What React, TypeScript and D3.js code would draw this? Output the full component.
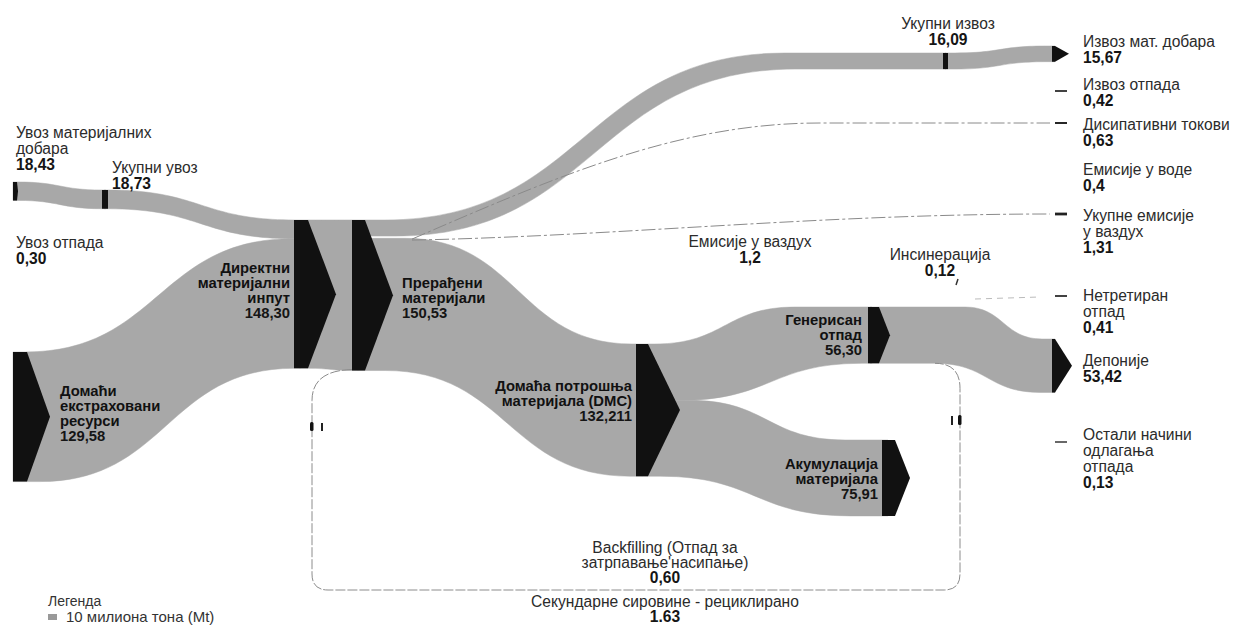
import React from "react";
import * as d3 from "d3";

// вредности у милионима тона (Mt)
const nodeIds = ["importGoods", "importTotal", "domestic", "dmi", "processed", "exportTotal", "exportGoods", "dmc", "waste", "accum", "landfill"];
const nodeValues = [18.43, 18.73, 129.58, 148.3, 150.53, 16.09, 15.67, 132.211, 56.3, 75.91, 53.42];
const nodeLabels = [
  ["Увоз материјалних", "добара"],
  ["Укупни увоз"],
  ["Домаћи", "екстраховани", "ресурси"],
  ["Директни", "материјални", "инпут"],
  ["Прерађени", "материјали"],
  ["Укупни извоз"],
  ["Извоз мат. добара"],
  ["Домаћа потрошња", "материјала (DMC)"],
  ["Генерисан", "отпад"],
  ["Акумулација", "материјала"],
  ["Депоније"],
];
const nodeValueText = ["18,43", "18,73", "129,58", "148,30", "150,53", "16,09", "15,67", "132,211", "56,30", "75,91", "53,42"];

const flowSource = ["importGoods", "importTotal", "domestic", "dmi", "processed", "exportTotal", "processed", "dmc", "dmc", "waste"];
const flowTarget = ["importTotal", "dmi", "dmi", "processed", "exportTotal", "exportGoods", "dmc", "waste", "accum", "landfill"];
const flowValues = [18.43, 18.73, 129.58, 148.3, 16.09, 15.67, 132.211, 56.3, 75.91, 53.42];

const minorNames = [["Извоз отпада"], ["Дисипативни токови"], ["Емисије у воде"], ["Укупне емисије", "у ваздух"], ["Нетретиран", "отпад"], ["Остали начини", "одлагања", "отпада"]];
const minorValues = [0.42, 0.63, 0.4, 1.31, 0.41, 0.13];
const minorValueText = ["0,42", "0,63", "0,4", "1,31", "0,41", "0,13"];

const otherLabels = [["Увоз отпада"], ["Емисије у ваздух"], ["Инсинерација"], ["Backfilling (Отпад за", "затрпавање'насипање)"], ["Секундарне сировине - рециклирано"]];
const otherValueText = ["0,30", "1,2", "0,12", "0,60", "1.63"];

// ---- распоред (layout) ----
const nodeLayout = {
  importGoods: { x: 13, y: 182, bar: 4, tip: 5 },
  importTotal: { x: 102, y: 190, bar: 6, tip: 6 },
  domestic: { x: 13, y: 352, bar: 14, tip: 37 },
  dmi: { x: 294, y: 220, bar: 14, tip: 42 },
  processed: { x: 352, y: 220, bar: 13, tip: 41 },
  exportTotal: { x: 943, y: 53, bar: 5, tip: 5 },
  exportGoods: { x: 1052, y: 46, bar: 3, tip: 17 },
  dmc: { x: 636, y: 344, bar: 12, tip: 44 },
  waste: { x: 868, y: 307, bar: 11, tip: 22 },
  accum: { x: 882, y: 440, bar: 13, tip: 28 },
  landfill: { x: 1052, y: 339, bar: 3, tip: 20 },
};

// x ranges: start, end, top curve [a,b], bottom curve [a,b]
const flowLayout = [
  { xs: 13, xe: 106, top: [18, 102], bot: [18, 102] },
  { xs: 104, xe: 300, top: [108, 294], bot: [108, 294] },
  { xs: 13, xe: 300, top: [25, 292], bot: [40, 294] },
  { xs: 300, xe: 358, top: [308, 352], bot: [308, 352] },
  { xs: 358, xe: 946, top: [385, 785], bot: [395, 795] },
  { xs: 945, xe: 1055, top: [955, 1045], bot: [955, 1045] },
  { xs: 358, xe: 642, top: [405, 632], bot: [385, 630] },
  { xs: 642, xe: 872, top: [655, 795], bot: [680, 862] },
  { xs: 642, xe: 888, top: [690, 845], bot: [660, 850] },
  { xs: 870, xe: 1055, top: [965, 1042], bot: [935, 1040] },
];

const nodeLabelPos = {
  importGoods: { x: 16, y: 138, anchor: "start", kind: "plain" },
  importTotal: { x: 112, y: 173, anchor: "start", kind: "plain" },
  domestic: { x: 60, y: 396, anchor: "start", kind: "band" },
  dmi: { x: 290, y: 273, anchor: "end", kind: "band" },
  processed: { x: 402, y: 288, anchor: "start", kind: "band" },
  exportTotal: { x: 948, y: 29, anchor: "middle", kind: "plain" },
  exportGoods: { x: 1083, y: 47, anchor: "start", kind: "plain" },
  dmc: { x: 632, y: 391, anchor: "end", kind: "band" },
  waste: { x: 862, y: 325, anchor: "end", kind: "band" },
  accum: { x: 878, y: 469, anchor: "end", kind: "band" },
  landfill: { x: 1083, y: 366, anchor: "start", kind: "plain" },
};
const minorLabelY = [90, 130, 175, 221, 301, 440];
const minorDashY = [91, 123, null, 214, 296, 442];
const otherLabelPos = [
  { x: 16, y: 248, anchor: "start" },
  { x: 750, y: 247, anchor: "middle" },
  { x: 940, y: 260, anchor: "middle" },
  { x: 665, y: 553, anchor: "middle", lh: 15 },
  { x: 665, y: 607, anchor: "middle", lh: 15 },
];

const W = 1242;
const H = 626;
const GRAY = "#a8a8a8";
const FONT = "'Liberation Sans', Arial, sans-serif";

const mt = d3.scaleLinear().domain([0, 10]).range([0, 10]);

function ribbon(l, ys, t0, ye, t1) {
  const p = d3.path();
  const [a, b] = l.top;
  const [c, d] = l.bot;
  const k = 0.5;
  p.moveTo(l.xs, ys);
  p.lineTo(a, ys);
  p.bezierCurveTo(a + (b - a) * k, ys, b - (b - a) * k, ye, b, ye);
  p.lineTo(l.xe, ye);
  p.lineTo(l.xe, ye + t1);
  p.lineTo(d, ye + t1);
  p.bezierCurveTo(d - (d - c) * k, ye + t1, c + (d - c) * k, ys + t0, c, ys + t0);
  p.lineTo(l.xs, ys + t0);
  p.closePath();
  return p.toString();
}

function nodeShape(n, h) {
  const pts = [
    [n.x, n.y],
    [n.x + n.bar, n.y],
    [n.x + n.tip, n.y + h / 2],
    [n.x + n.bar, n.y + h],
    [n.x, n.y + h],
  ];
  return d3.line()(pts) + "Z";
}

function Label({ x, y, anchor, lines, value, kind, lh }) {
  const band = kind === "band";
  const step = lh || (band ? 15 : 16);
  return (
    <text
      x={x}
      y={y}
      textAnchor={anchor}
      fontFamily={FONT}
      fontSize={band ? 14.8 : 15.6}
      fontWeight={band ? "bold" : "normal"}
      fill={band ? "#111" : "#2b2b2b"}
    >
      {lines.map((s, i) => (
        <tspan key={i} x={x} y={y + i * step}>{s}</tspan>
      ))}
      <tspan x={x} y={y + lines.length * step} fontWeight="bold" fill="#151515">{value}</tspan>
    </text>
  );
}

export default function App() {
  const valueOf = (id) => nodeValues[nodeIds.indexOf(id)];

  // stack flows at nodes; last flow is aligned to the node's far edge
  const outs = {};
  const ins = {};
  flowSource.forEach((s, i) => (outs[s] = [...(outs[s] || []), i]));
  flowTarget.forEach((t, i) => (ins[t] = [...(ins[t] || []), i]));

  const offset = (list, i, total) => {
    const pos = list.indexOf(i);
    if (pos === list.length - 1 && list.length > 1) return total - flowValues[i];
    return d3.sum(list.slice(0, pos), (j) => flowValues[j]);
  };

  const ribbons = flowValues.map((v, i) => {
    const s = flowSource[i];
    const t = flowTarget[i];
    const sl = nodeLayout[s];
    const tl = nodeLayout[t];
    const t0 = mt(outs[s].length === 1 ? valueOf(s) : v);
    const t1 = mt(ins[t].length === 1 ? valueOf(t) : v);
    const ys = sl.y + mt(offset(outs[s], i, valueOf(s)));
    const ye = tl.y + mt(offset(ins[t], i, valueOf(t)));
    return ribbon(flowLayout[i], ys, t0, ye, t1);
  });

  // тањи токови (емисије, дисипативни токови)
  const fan = nodeLayout.processed;
  const fx = fan.x + 60;
  const fy = fan.y + mt(flowValues[4]) + 3;
  const dissip = d3.path();
  dissip.moveTo(fx, fy);
  dissip.bezierCurveTo(560, 175, 680, minorDashY[1], 820, minorDashY[1]);
  dissip.lineTo(1050, minorDashY[1]);
  const air = d3.path();
  air.moveTo(fx, fy + 1);
  air.bezierCurveTo(620, 236, 820, minorDashY[3], 1050, minorDashY[3]);

  // петља рециклаже / backfilling
  const loopX0 = 312;
  const loopX1 = 960;
  const loopY = 590;
  const wasteBottom = nodeLayout.waste.y + mt(valueOf("waste"));
  const dmiBottom = nodeLayout.processed.y + mt(valueOf("processed"));
  const loop = d3.path();
  loop.moveTo(352, dmiBottom - 1);
  loop.quadraticCurveTo(loopX0, dmiBottom, loopX0, dmiBottom + 30);
  loop.lineTo(loopX0, loopY - 16);
  loop.quadraticCurveTo(loopX0, loopY, loopX0 + 16, loopY);
  loop.lineTo(loopX1 - 16, loopY);
  loop.quadraticCurveTo(loopX1, loopY, loopX1, loopY - 16);
  loop.lineTo(loopX1, wasteBottom + 25);
  loop.quadraticCurveTo(loopX1, wasteBottom, 935, wasteBottom);

  return (
    <div style={{ position: "absolute", left: 0, top: 0 }}>
      <svg width={W} height={H} viewBox={`0 0 ${W} ${H}`} style={{ display: "block", background: "#fff" }}>
        <g>
          {ribbons.map((d, i) => (
            <path key={i} d={d} fill={GRAY} stroke={GRAY} strokeWidth={0.5} />
          ))}
        </g>

        <path d={dissip.toString()} fill="none" stroke="#8a8a8a" strokeWidth={1} strokeDasharray="14 3 3 3" />
        <path d={air.toString()} fill="none" stroke="#8a8a8a" strokeWidth={1} strokeDasharray="14 3 3 3" />
        <line x1={975} y1={299} x2={1040} y2={297} stroke="#bbb" strokeWidth={1} strokeDasharray="6 5" />
        <path d={loop.toString()} fill="none" stroke="#8c8c8c" strokeWidth={1} strokeDasharray="10 2" />

        {/* прекиди на петљи */}
        <rect x={310} y={422} width={3.5} height={9} rx={1.5} fill="#111" />
        <rect x={321} y={423} width={2} height={8} fill="#222" />
        <rect x={951} y={416} width={2} height={9} fill="#222" />
        <rect x={958} y={415} width={3.5} height={10} rx={1.5} fill="#111" />

        {/* чворови */}
        {nodeIds.map((id, i) => (
          <path key={id} d={nodeShape(nodeLayout[id], mt(nodeValues[i]))} fill="#111" />
        ))}

        {/* мали излазни токови */}
        {minorValues.map((v, i) =>
          minorDashY[i] == null ? null : (
            <rect key={i} x={1055} y={minorDashY[i] - (1.2 + mt(v) * 1.2) / 2} width={12} height={1.2 + mt(v) * 1.2} fill="#222" />
          )
        )}
        <path d="M958,279 L956,285" stroke="#333" strokeWidth={1.5} />

        {nodeIds.map((id, i) => (
          <Label key={id} {...nodeLabelPos[id]} lines={nodeLabels[i]} value={nodeValueText[i]} />
        ))}
        {minorNames.map((lines, i) => (
          <Label key={i} x={1083} y={minorLabelY[i]} anchor="start" kind="plain" lines={lines} value={minorValueText[i]} />
        ))}
        {otherLabels.map((lines, i) => (
          <Label key={i} {...otherLabelPos[i]} kind="plain" lines={lines} value={otherValueText[i]} />
        ))}

        {/* легенда */}
        <text x={48} y={606} fontFamily={FONT} fontSize={14} fill="#333">Легенда</text>
        <rect x={48} y={614} width={mt(9)} height={6} fill="#999" />
        <text x={66} y={622} fontFamily={FONT} fontSize={15} fill="#333">10 милиона тона (Mt)</text>
      </svg>
    </div>
  );
}
